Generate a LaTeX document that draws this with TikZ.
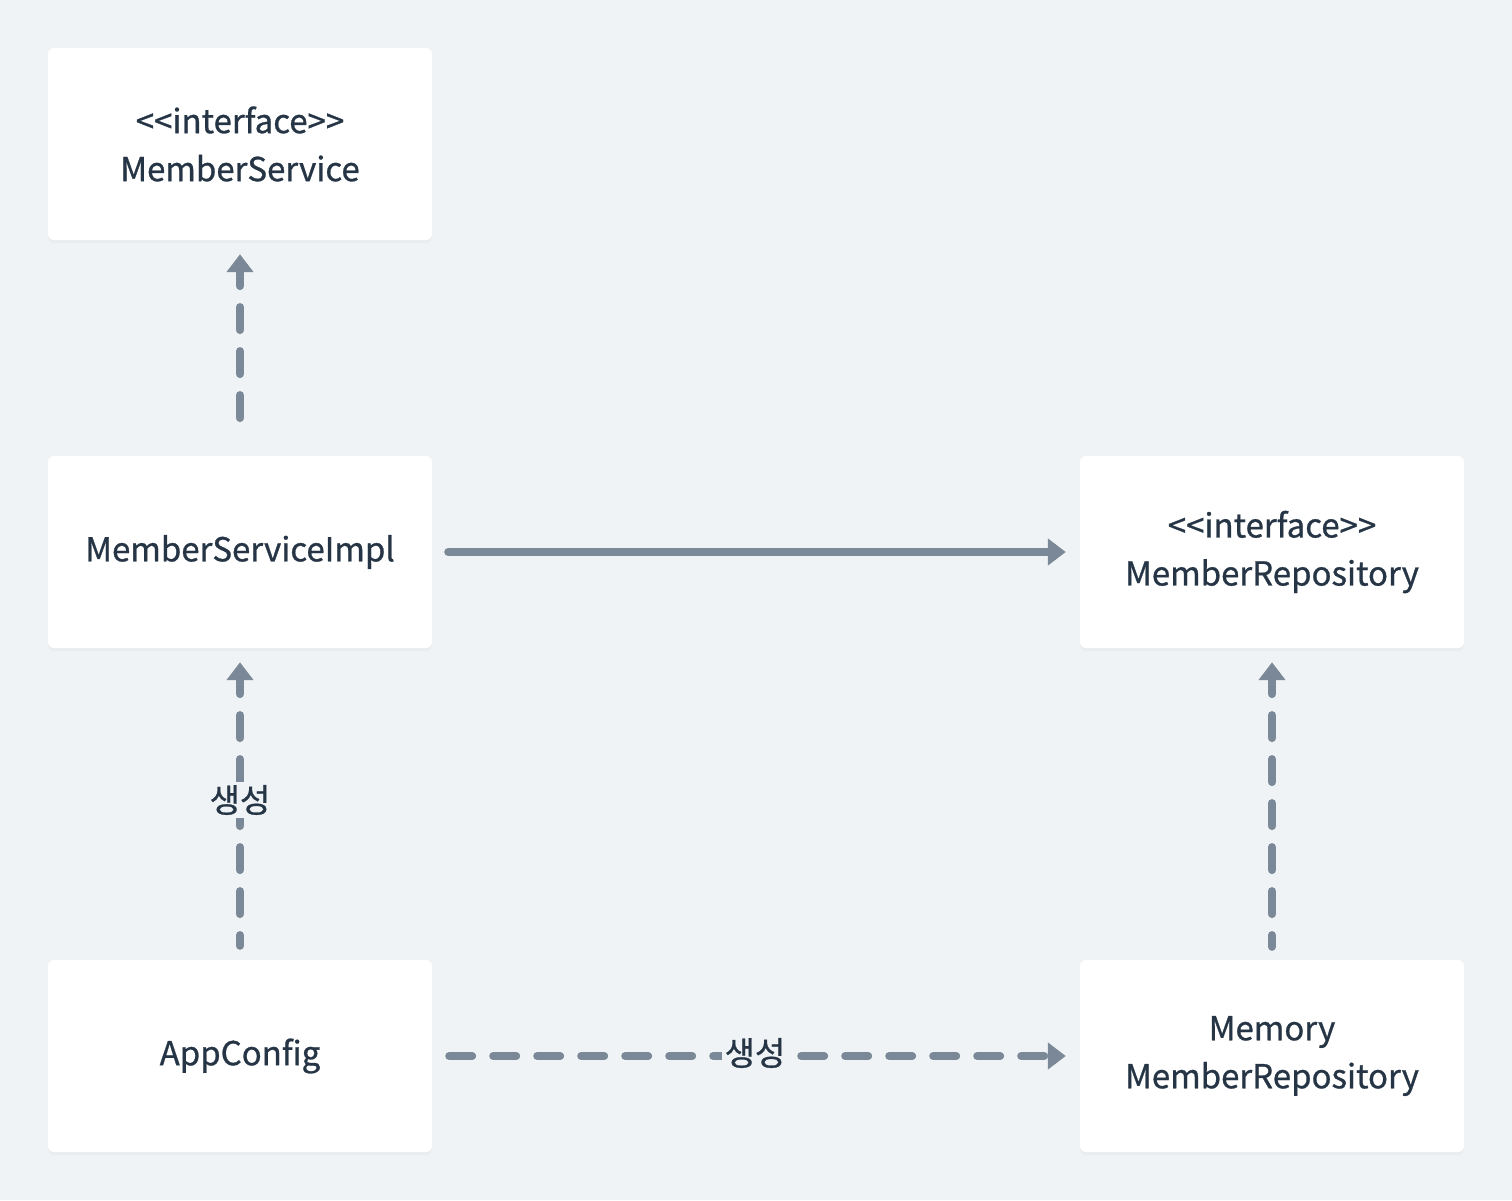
\documentclass[tikz,border=0pt]{standalone}
\usepackage{fontspec}
\setmainfont{Noto Sans CJK KR}[FakeBold=0.8]
\usetikzlibrary{arrows.meta,shadows}
\definecolor{bg}{HTML}{EFF3F6}
\definecolor{txt}{HTML}{263545}
\definecolor{arr}{HTML}{7B8898}
\begin{document}
\begin{tikzpicture}[x=1pt,y=-1pt,
  box/.style={fill=white, rounded corners=6pt, minimum width=384pt, minimum height=192pt,
    inner sep=0pt, align=center, text=txt, font=\fontsize{33}{48}\selectfont,
    drop shadow={opacity=0.05, shadow xshift=0pt, shadow yshift=-3pt}},
  conn/.style={draw=arr, line width=8pt, line cap=round},
  tipstart/.style={{Triangle[length=18pt,width=26pt]}-},
  tipend/.style={-{Triangle[length=18pt,width=26pt]}},
  dsh/.style={dash pattern=on 23pt off 21pt, dash phase=8pt},
  lbl/.style={fill=bg, text=txt, font=\fontsize{33}{36}\selectfont, inner sep=3pt}]
\fill[bg] (0,0) rectangle (1512,1200);
\node[box] (ms) at (240,144) {<{}<interface>{}>\\MemberService};
\node[box] (impl) at (240,552) {MemberServiceImpl};
\node[box] (repo) at (1272,552) {<{}<interface>{}>\\MemberRepository};
\node[box] (app) at (240,1056) {AppConfig};
\node[box] (mem) at (1272,1056) {Memory\\MemberRepository};
\draw[conn,dsh,tipstart,shorten <=14pt,shorten >=37pt] (ms.south) -- (impl.north);
\draw[conn,tipend,shorten <=16pt,shorten >=14pt] (impl.east) -- (repo.west);
\draw[conn,dsh,tipstart,shorten <=14pt,shorten >=14pt] (impl.south) -- (app.north);
\draw[conn,dsh,tipstart,shorten <=14pt,shorten >=13pt] (repo.south) -- (mem.north);
\draw[conn,dash pattern=on 23pt off 21pt,tipend,shorten <=17pt,shorten >=14pt] (app.east) -- (mem.west);
\node[lbl] (l1) at (240,800) {생성};
\node[lbl] (l2) at (755,1053) {생성};
\end{tikzpicture}
\end{document}
